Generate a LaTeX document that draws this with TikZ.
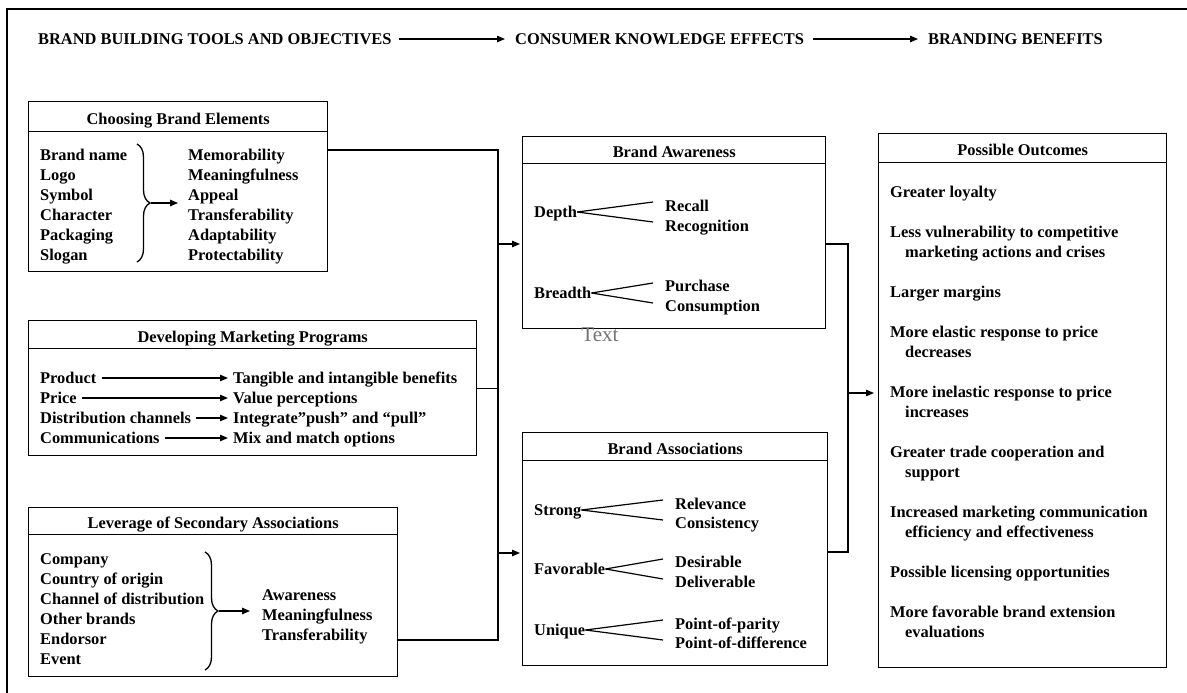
\documentclass[tikz,border=0pt]{standalone}
\usepackage{fontspec}
\setmainfont{Liberation Serif}
\usetikzlibrary{
    positioning,
    arrows.meta,
    calc,
    decorations.pathreplacing,
}
\tikzset{
    % Box styles
    panel/.style={draw, line width=1.4pt, anchor=north west, inner sep=0pt},
    panel head/.style={panel, text height=15pt, text depth=-4pt,
                       font=\bfseries\fontsize{16.4}{20}\selectfont},
    % Text styles
    item/.style={anchor=base west, inner sep=0pt, font=\bfseries\fontsize{16.4}{20}\selectfont},
    banner/.style={item, anchor=west},
    % Arrow styles
    arrow/.style={-{Triangle[length=8pt, width=6.5pt]}, line width=1.3pt},
    link/.style={line width=1.4pt},
    fork/.style={line width=1.2pt},
    bracket/.style={line width=1.3pt, decorate, decoration={brace, amplitude=13pt}},
}

\begin{document}
\begin{tikzpicture}[x=1pt, y=-1pt]
    \useasboundingbox (0,0) rectangle (1187,693);
    % Frame
    \draw[line width=2pt] (7,693) -- (7,9) -- (1187,9);

    % Banner
    \node[banner] (tools) at (38,39) {BRAND BUILDING TOOLS AND OBJECTIVES};
    \node[banner] (effects) at (515,39) {CONSUMER KNOWLEDGE EFFECTS};
    \node[banner] (benefits) at (928,39) {BRANDING BENEFITS};
    \draw[arrow, shorten <=7pt, shorten >=10pt] (tools) -- (effects);
    \draw[arrow, shorten <=9pt, shorten >=10pt] (effects) -- (benefits);

    % Choosing Brand Elements
    \node[panel, minimum width=299pt, minimum height=170pt] (elements) at (28,101) {};
    \node[panel head, minimum width=299pt, minimum height=30pt] (elementsT) at (elements.north west) {Choosing Brand Elements};
    \foreach \t [count=\i] in {Brand name, Logo, Symbol, Character, Packaging, Slogan}
        \node[item] (el\i) at (40,{140.5+20*\i}) {\t};
    \foreach \t [count=\i] in {Memorability, Meaningfulness, Appeal, Transferability, Adaptability, Protectability}
        \node[item] (cr\i) at (188,{140.5+20*\i}) {\t};
    \draw[bracket] (137,144) -- (137,262);
    \coordinate (elTip) at (151,203);
    \draw[arrow, shorten >=10pt] (elTip) -- (elTip -| cr1.west);

    % Developing Marketing Programs
    \node[panel, minimum width=448pt, minimum height=135pt] (programs) at (28,320) {};
    \node[panel head, minimum width=448pt, minimum height=28pt] (programsT) at (programs.north west) {Developing Marketing Programs};
    \foreach \a/\b [count=\i] in {Product/Tangible and intangible benefits, Price/Value perceptions,
            Distribution channels/Integrate”push” and “pull”, Communications/Mix and match options} {
        \node[item] (pg\i) at (40,{363.5+20*\i}) {\a};
        \node[item] (pb\i) at (233,{363.5+20*\i}) {\b};
        \draw[arrow] ([xshift=5pt, yshift=5.5pt]pg\i.base east) -- ([xshift=-5pt, yshift=5.5pt]pb\i.base west);
    }

    % Leverage of Secondary Associations
    \node[panel, minimum width=369pt, minimum height=169pt] (secondary) at (28,507) {};
    \node[panel head, minimum width=369pt, minimum height=27pt] (secondaryT) at (secondary.north west) {Leverage of Secondary Associations};
    \foreach \t [count=\i] in {Company, Country of origin, Channel of distribution, Other brands, Endorsor, Event}
        \node[item] (sc\i) at (40,{544.5+20*\i}) {\t};
    \foreach \t [count=\i] in {Awareness, Meaningfulness, Transferability}
        \node[item] (sr\i) at (262,{580.5+20*\i}) {\t};
    \draw[bracket] (205,552) -- (205,670);
    \coordinate (scTip) at (219,611);
    \draw[arrow, shorten >=12pt] (scTip) -- (scTip -| sr1.west);

    % Brand Awareness
    \node[panel, minimum width=303pt, minimum height=192pt] (awareness) at (522,136) {};
    \node[panel head, minimum width=303pt, minimum height=27pt] (awarenessT) at (awareness.north west) {Brand Awareness};
    \node[item] (depth) at (534,217.5) {Depth};
    \node[item] (recall) at (665,211) {Recall};
    \node[item] (recog) at (665,231.5) {Recognition};
    \node[item] (breadth) at (534,298.5) {Breadth};
    \node[item] (purch) at (665,291.5) {Purchase};
    \node[item] (consum) at (665,311.5) {Consumption};

    % Brand Associations
    \node[panel, minimum width=305pt, minimum height=233pt] (associations) at (522,432) {};
    \node[panel head, minimum width=305pt, minimum height=28pt] (associationsT) at (associations.north west) {Brand Associations};
    \node[item] (strong) at (534,515.5) {Strong};
    \node[item] (relev) at (675,509) {Relevance};
    \node[item] (consis) at (675,528) {Consistency};
    \node[item] (favor) at (534,574.5) {Favorable};
    \node[item] (desir) at (675,567.5) {Desirable};
    \node[item] (deliv) at (675,587) {Deliverable};
    \node[item] (unique) at (534,635.5) {Unique};
    \node[item] (pop) at (675,629) {Point-of-parity};
    \node[item] (pod) at (675,648) {Point-of-difference};

    % Forks
    \foreach \s/\a in {depth/recall, breadth/purch, strong/relev, favor/desir, unique/pop} {
        \coordinate (\s F) at ([yshift=5.5pt]\s.base east);
        \draw[fork] (\s F) -- ($(\s F -| \a.west)+(-12,-10)$);
        \draw[fork] (\s F) -- ($(\s F -| \a.west)+(-12,10)$);
    }

    % Possible Outcomes
    \node[panel, minimum width=288pt, minimum height=534pt] (outcomes) at (878,133) {};
    \node[panel head, minimum width=288pt, minimum height=29pt] (outcomesT) at (outcomes.north west) {Possible Outcomes};
    \foreach \k/\dx/\t [count=\i] in {0/0/Greater loyalty,
            2/0/Less vulnerability to competitive, 3/15/marketing actions and crises,
            5/0/Larger margins,
            7/0/More elastic response to price, 8/15/decreases,
            10/0/More inelastic response to price, 11/15/increases,
            13/0/Greater trade cooperation and, 14/15/support,
            16/0/Increased marketing communication, 17/15/efficiency and effectiveness,
            19/0/Possible licensing opportunities,
            21/0/More favorable brand extension, 22/15/evaluations}
        \node[item] (po\i) at ({890+\dx},{197.5+20*\k}) {\t};

    % Connectors
    \coordinate (busA) at (498,150);
    \coordinate (busB) at (498,640);
    \draw[link] (elements.north east |- busA) -- (busA) -- (busB) -- (secondary.north east |- busB);
    \draw[link] (programs.east) -- (programs.east -| busA);
    \coordinate (inA) at (498,244);
    \coordinate (inB) at (498,553);
    \draw[arrow, shorten >=2pt] (inA) -- (inA -| awareness.west);
    \draw[arrow, shorten >=2pt] (inB) -- (inB -| associations.west);
    \coordinate (outA) at (848,244);
    \coordinate (outB) at (848,552);
    \coordinate (outC) at (848,393);
    \draw[link] (awareness.east |- outA) -- (outA) -- (outB) -- (associations.east |- outB);
    \draw[arrow, shorten >=4pt] (outC) -- (outC -| outcomes.west);

    % Stray label
    \node[font=\fontsize{21}{24}\selectfont, text=black!55, inner sep=0pt] (stray) at (600,335) {Text};
\end{tikzpicture}
\end{document}
